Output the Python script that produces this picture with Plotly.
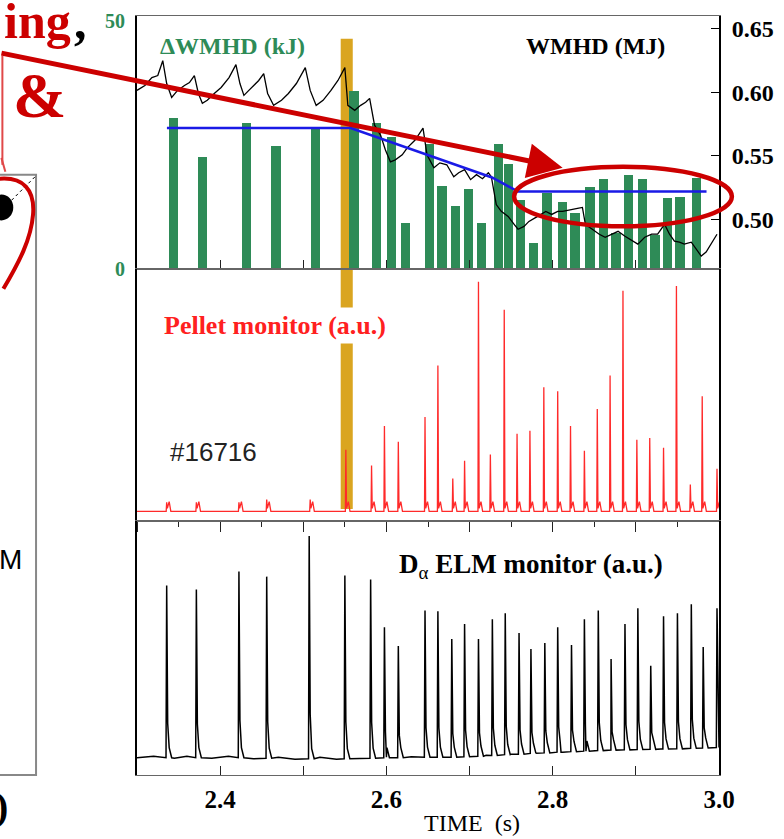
import plotly.graph_objects as go

# ---------------------------------------------------------------- data
# Stored-energy drop per ELM (kJ), bars
dw_time = [2.344, 2.379, 2.432, 2.467, 2.515, 2.561, 2.588, 2.606, 2.623, 2.652,
           2.667, 2.683, 2.699, 2.714, 2.735, 2.747, 2.761, 2.777, 2.793, 2.812,
           2.827, 2.845, 2.861, 2.876, 2.891, 2.908, 2.923, 2.938, 2.953, 2.973]
dw_kj = [30.4, 22.6, 29.4, 24.8, 28.4, 35.8, 29.4, 26.6, 9.2, 25.2,
         16.8, 12.6, 16.2, 9.2, 25.2, 21.2, 14.0, 5.2, 15.4, 13.6,
         11.2, 16.6, 18.2, 7.2, 19.0, 18.2, 6.8, 14.4, 14.6, 18.4]

# Stored energy WMHD (MJ)
wmhd_time = [2.300, 2.3095, 2.3179, 2.3250, 2.3310, 2.3357, 2.3417, 2.3488, 2.3571, 2.3631,
             2.3690, 2.3738, 2.3786, 2.3845, 2.3929, 2.4012, 2.4107, 2.4190, 2.4238, 2.4286,
             2.4345, 2.4405, 2.4464, 2.4524, 2.4571, 2.4643, 2.4738, 2.4821, 2.4917, 2.5024,
             2.5083, 2.5155, 2.5238, 2.5333, 2.5417, 2.5500, 2.5536, 2.5619, 2.5690, 2.5750,
             2.5798, 2.5857, 2.5929, 2.5988, 2.6048, 2.6107, 2.6190, 2.6250, 2.6345, 2.6440,
             2.6488, 2.6571, 2.6643, 2.6726, 2.6810, 2.6869, 2.6940, 2.7012, 2.7083, 2.7155,
             2.7226, 2.7262, 2.7321, 2.7381, 2.7464, 2.7536, 2.7583, 2.7655, 2.7714, 2.7798,
             2.7857, 2.7917, 2.7988, 2.8060, 2.8119, 2.8214, 2.8298, 2.8357, 2.8393, 2.8476,
             2.8560, 2.8631, 2.8714, 2.8786, 2.8869, 2.8952, 2.9024, 2.9107, 2.9190, 2.9262,
             2.9345, 2.9405, 2.9464, 2.9524, 2.9583, 2.9667, 2.9726, 2.9786, 2.9845, 2.9905,
             2.9976]
wmhd_mj = [0.6016, 0.6055, 0.6117, 0.6133, 0.6250, 0.6070, 0.5961, 0.6016, 0.6055, 0.6078,
           0.6133, 0.5992, 0.5914, 0.5938, 0.5992, 0.6039, 0.6117, 0.6219, 0.6070, 0.5977,
           0.6016, 0.6055, 0.6094, 0.6148, 0.5992, 0.5898, 0.5938, 0.5992, 0.6070, 0.6195,
           0.6016, 0.5898, 0.5938, 0.6016, 0.6094, 0.6195, 0.5898, 0.5859, 0.5898, 0.5922,
           0.5953, 0.5742, 0.5664, 0.5547, 0.5453, 0.5469, 0.5508, 0.5563, 0.5625, 0.5719,
           0.5508, 0.5406, 0.5445, 0.5430, 0.5336, 0.5367, 0.5391, 0.5313, 0.5352, 0.5320,
           0.5367, 0.5336, 0.5117, 0.5063, 0.5023, 0.4961, 0.4922, 0.4945, 0.4984, 0.5016,
           0.5039, 0.5063, 0.5039, 0.5063, 0.5063, 0.5078, 0.5086, 0.5094, 0.4961, 0.4922,
           0.4883, 0.4859, 0.4883, 0.4906, 0.4867, 0.4836, 0.4805, 0.4859, 0.4883, 0.4883,
           0.4961, 0.4883, 0.4828, 0.4820, 0.4805, 0.4820, 0.4766, 0.4711, 0.4742, 0.4805,
           0.4883]

# Averaged WMHD trend (MJ)
trend_time = [2.336, 2.557, 2.727, 2.758, 2.985]
trend_mj = [0.572, 0.572, 0.533, 0.522, 0.522]

# Pellet monitor spikes (a.u.)
pellet_time = [2.3357, 2.3714, 2.4226, 2.4560, 2.5083, 2.5512, 2.5821, 2.5976, 2.6143, 2.6464,
               2.6619, 2.6798, 2.6940, 2.7107, 2.7250, 2.7417, 2.7571, 2.7726, 2.7893, 2.8060,
               2.8214, 2.8381, 2.8536, 2.8690, 2.8845, 2.9012, 2.9167, 2.9333, 2.9488, 2.9655,
               2.9798, 2.9976]
pellet_amp = [0.037, 0.037, 0.037, 0.049, 0.049, 0.254, 0.189, 0.352, 0.287, 0.389,
              0.602, 0.135, 0.209, 0.947, 0.234, 0.832, 0.320, 0.332, 0.512, 0.496,
              0.352, 0.250, 0.422, 0.561, 0.910, 0.295, 0.303, 0.262, 0.930, 0.111,
              0.475, 0.176]

# D-alpha ELM monitor (a.u.)
elm_time = [2.3357, 2.3714, 2.4226, 2.4560, 2.5071, 2.5500, 2.5810, 2.5976, 2.6143, 2.6464,
            2.6619, 2.6786, 2.6940, 2.7107, 2.7274, 2.7429, 2.7595, 2.7738, 2.7905, 2.8060,
            2.8226, 2.8381, 2.8548, 2.8702, 2.8869, 2.9024, 2.9179, 2.9333, 2.9500, 2.9667,
            2.9810, 2.9976]
elm_peak = [0.746, 0.730, 0.801, 0.781, 0.941, 0.785, 0.770, 0.582, 0.508, 0.648,
            0.645, 0.535, 0.594, 0.535, 0.613, 0.637, 0.559, 0.496, 0.520, 0.582,
            0.512, 0.613, 0.648, 0.457, 0.594, 0.656, 0.430, 0.625, 0.637, 0.672,
            0.504, 0.656]
elm_base = [0.068, 0.068, 0.068, 0.066, 0.064, 0.064, 0.066, 0.068, 0.068, 0.070,
            0.070, 0.070, 0.072, 0.074, 0.077, 0.080, 0.082, 0.085, 0.087, 0.090,
            0.092, 0.094, 0.096, 0.098, 0.099, 0.100, 0.101, 0.102, 0.103, 0.105,
            0.106, 0.108]
dalpha_bg_time = [2.300, 2.320, 2.345, 2.360, 2.390, 2.410, 2.440, 2.470, 2.490, 2.520,
                  2.540, 2.570, 2.600, 2.630, 2.660, 2.690, 2.720, 2.750, 2.780, 2.810,
                  2.840, 2.870, 2.900, 2.930, 2.960, 3.000]
dalpha_bg = [0.068, 0.074, 0.066, 0.074, 0.066, 0.074, 0.064, 0.070, 0.062, 0.070,
             0.062, 0.066, 0.070, 0.072, 0.068, 0.072, 0.078, 0.082, 0.086, 0.090,
             0.094, 0.098, 0.100, 0.102, 0.105, 0.108]

pellet_window = (2.545, 2.5595)   # first pellet injection window (s)
x_ticks = [2.3, 2.4, 2.5, 2.6, 2.7, 2.8, 2.9, 3.0]
x_ticktext = ["", "2.4", "", "2.6", "", "2.8", "", "3.0"]

# ---------------------------------------------------------------- layout helpers
W, H = 784, 839
PL, PR, PT, PB = 137, 725, 10, 775   # plot area in page pixels


def xp(px):
    return (px - PL) / (PR - PL)


def yp(py):
    return (PB - py) / (PB - PT)


SERIF = "Liberation Serif"
SANS = "Liberation Sans"
GREEN = "#2e8b57"
DARKRED = "#cc0000"
GOLD = "#daa520"

# ---------------------------------------------------------------- traces
fig = go.Figure()

fig.add_trace(go.Bar(x=dw_time, y=dw_kj, width=0.0113, marker=dict(color=GREEN, line=dict(width=0)),
                     xaxis="x", yaxis="y", showlegend=False))
fig.add_trace(go.Scatter(x=wmhd_time, y=wmhd_mj, mode="lines", line=dict(color="black", width=1.3),
                         xaxis="x", yaxis="y2", showlegend=False))
fig.add_trace(go.Scatter(x=trend_time, y=trend_mj, mode="lines", line=dict(color="#1a1ae6", width=2.5),
                         xaxis="x", yaxis="y2", showlegend=False))

# pellet monitor: flat baseline with a sharp spike per pellet
px_, py_ = [2.3], [0.0]
for t, a in zip(pellet_time, pellet_amp):
    px_ += [t - 0.0006, t, t + 0.0008, t + 0.0030, t + 0.0050]
    py_ += [0.0, a, 0.012, 0.040, 0.0]
px_.append(3.0)
py_.append(0.0)
fig.add_trace(go.Scatter(x=px_, y=py_, mode="lines", line=dict(color="#ff2a2a", width=1.3),
                         xaxis="x2", yaxis="y3", showlegend=False))

# D-alpha: slowly varying background with ELM bursts
pts = list(zip(dalpha_bg_time, dalpha_bg))
for t, p, b in zip(elm_time, elm_peak, elm_base):
    pts += [(t - 0.0008, b), (t, p), (t + 0.0012, b + 0.2 * (p - b)), (t + 0.003, b + 0.04), (t + 0.006, b)]
pts.sort(key=lambda q: q[0])
fig.add_trace(go.Scatter(x=[q[0] for q in pts], y=[q[1] for q in pts], mode="lines",
                         line=dict(color="black", width=1.5), xaxis="x3", yaxis="y4", showlegend=False))

# ---------------------------------------------------------------- axes
top_lo = yp(265)
mid_lo = yp(519)
xr = [2.3, 3.0]
common_x = dict(range=xr, showgrid=False, zeroline=False, showline=True, linecolor="#666",
                linewidth=1, mirror=True, fixedrange=True)

fig.update_layout(
    width=W, height=H,
    margin=dict(l=PL, r=W - PR, t=PT, b=H - PB),
    paper_bgcolor="white", plot_bgcolor="rgba(0,0,0,0)",
    bargap=0,
    xaxis=dict(**common_x, domain=[0, 1], anchor="y", showticklabels=False,
               tickmode="array", tickvals=x_ticks, ticks="inside", ticklen=9, tickcolor="#222"),
    yaxis=dict(domain=[top_lo, 1], range=[0, 51], tickmode="array", tickvals=[0, 50],
               ticktext=["0", "50"], ticks="", showgrid=False, zeroline=False,
               showline=True, linecolor="black", linewidth=2, ticklabelstandoff=6,
               tickfont=dict(family=SERIF, size=20, color=GREEN, weight="bold")),
    yaxis2=dict(overlaying="y", side="right", anchor="x", range=[0.4609, 0.6602],
                tickmode="array", tickvals=[0.50, 0.55, 0.60, 0.65],
                ticktext=["0.50", "0.55", "0.60", "0.65"], ticks="inside", ticklen=8,
                tickcolor="black", showgrid=False, zeroline=False, showline=True,
                linecolor="black", linewidth=2, ticklabelstandoff=6,
                tickfont=dict(family=SERIF, size=24, color="black", weight="bold")),
    xaxis2=dict(**common_x, domain=[0, 1], anchor="y3", showticklabels=False,
                tick0=2.3, dtick=0.1, ticks="outside", ticklen=10, tickcolor="#222",
                minor=dict(dtick=0.05, tick0=2.3, ticks="outside", ticklen=5, tickcolor="#222")),
    yaxis3=dict(domain=[mid_lo, top_lo], range=[-0.04, 1.0], showticklabels=False, ticks="",
                showgrid=False, zeroline=False, showline=True, linecolor="black", linewidth=2,
                mirror=True),
    xaxis3=dict(**common_x, domain=[0, 1], anchor="y4", tickmode="array", tickvals=x_ticks,
                ticktext=x_ticktext, ticks="inside", ticklen=9, tickcolor="#222",
                ticklabelstandoff=2,
                tickfont=dict(family=SERIF, size=25, color="black", weight="bold")),
    yaxis4=dict(domain=[0, mid_lo], range=[0, 1.0], showticklabels=False, ticks="",
                showgrid=False, zeroline=False, showline=True, linecolor="black", linewidth=2,
                mirror=True),
)

# ---------------------------------------------------------------- shapes
shapes = [
    # pellet injection window through the upper two panels
    dict(type="rect", xref="x", yref="paper", x0=pellet_window[0], x1=pellet_window[1],
         y0=yp(507), y1=yp(33), fillcolor=GOLD, line=dict(width=0), layer="below"),
    # highlighted saturation region
    dict(type="circle", xref="paper", yref="paper", x0=xp(518), x1=xp(738), y0=yp(222), y1=yp(162),
         line=dict(color=DARKRED, width=4.5), layer="above"),
    # neighbouring panel frame on the left
    dict(type="rect", xref="paper", yref="paper", x0=xp(-20), x1=xp(35), y0=yp(775), y1=yp(170),
         line=dict(color="#888", width=2), layer="above"),
    dict(type="line", xref="paper", yref="paper", x0=xp(6), y0=yp(200), x1=xp(34), y1=yp(172),
         line=dict(color="black", width=1, dash="dot"), layer="above"),
    dict(type="circle", xref="paper", yref="paper", x0=xp(-12), x1=xp(12), y0=yp(216), y1=yp(190),
         fillcolor="black", line=dict(width=0), layer="above"),
    dict(type="path", xref="paper", yref="paper", layer="above",
         path=(f"M {xp(-2)},{yp(174)} C {xp(22)},{yp(172)} {xp(34)},{yp(185)} {xp(32)},{yp(210)} "
               f"C {xp(30)},{yp(235)} {xp(18)},{yp(258)} {xp(2)},{yp(285)}"),
         line=dict(color=DARKRED, width=4)),
    dict(type="line", xref="paper", yref="paper", x0=xp(1), y0=yp(50), x1=xp(1), y1=yp(160),
         line=dict(color="#e04848", width=2), layer="above"),
    dict(type="line", xref="paper", yref="paper", x0=xp(0), y0=yp(153), x1=xp(4), y1=yp(167),
         line=dict(color="#e04848", width=2), layer="above"),
]
fig.update_layout(shapes=shapes)

# ---------------------------------------------------------------- annotations
def label(x, y, text, size, color="black", family=SERIF, xanchor="left", **kw):
    return dict(xref="paper", yref="paper", x=xp(x), y=yp(y), text=text, showarrow=False,
                xanchor=xanchor, yanchor="middle", font=dict(family=family, size=size, color=color), **kw)


annotations = [
    label(158, 40, "<b>ΔWMHD (kJ)</b>", 24, GREEN),
    label(600, 40, "<b>WMHD (MJ)</b>", 24, xanchor="center"),
    label(160, 322, "<b>Pellet monitor (a.u.)</b>", 26, "#ff2020", bgcolor="white", borderpad=3),
    label(168, 449, "#16716", 26, "#222", family=SANS),
    label(400, 564, "<b>D</b><sub>α</sub><b> ELM monitor (a.u.)</b>", 27),
    label(475, 823, "TIME  (s)", 24, xanchor="center"),
    label(72, 15, "<b>ing</b>", 50, DARKRED, xanchor="right"),
    label(71, 15, "<b>,</b>", 50, "black", xanchor="left"),
    label(38, 90, "<b>&</b>", 64, DARKRED, xanchor="center"),
    label(-4, 558, "M", 28, family=SANS),
    label(9, 807, "<b>)</b>", 40, xanchor="right"),
    # arrow pointing at the saturated region
    dict(xref="paper", yref="paper", x=xp(567), y=yp(163), ax=-577, ay=-115, axref="pixel",
         ayref="pixel", text="", showarrow=True, arrowhead=2, arrowsize=1.4, arrowwidth=5,
         arrowcolor=DARKRED, standoff=0),
]
fig.update_layout(annotations=annotations)

fig.write_html("out.html")
